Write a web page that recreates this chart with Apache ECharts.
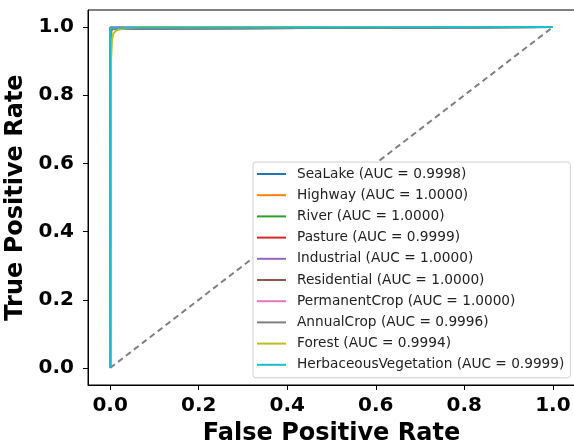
<!DOCTYPE html>
<html><head><meta charset="utf-8">
<script src="https://cdn.jsdelivr.net/npm/echarts@6/dist/echarts.min.js"></script>
<style>html,body{margin:0;padding:0;background:#fff}#c{width:574px;height:446px}</style>
</head><body><div id="c"></div>
<script>
const classNames = ['SeaLake','Highway','River','Pasture','Industrial','Residential','PermanentCrop','AnnualCrop','Forest','HerbaceousVegetation'];
const aucValues = ['0.9998','1.0000','1.0000','0.9999','1.0000','1.0000','1.0000','0.9996','0.9994','0.9999'];
const colors = ['#1f77b4','#ff7f0e','#2ca02c','#d62728','#9467bd','#8c564b','#e377c2','#7f7f7f','#bcbd22','#17becf'];
const tickValues = [0, 0.2, 0.4, 0.6, 0.8, 1.0];
// ROC curve points [FPR, TPR] per class
const rocSeaLake = [[0,0],[0,0.97],[0.001,0.99],[0.003,0.998],[0.006,1],[1,1]];
const rocHighway = [[0,0],[0,0.99],[0.001,1],[1,1]];
const rocRiver = [[0,0],[0,0.995],[0.001,1],[1,1]];
const rocPasture = [[0,0],[0,0.98],[0.002,0.995],[0.004,1],[1,1]];
const rocIndustrial = [[0,0],[0,0.995],[0.001,1],[1,1]];
const rocResidential = [[0,0],[0,0.998],[0.001,1],[1,1]];
const rocPermanentCrop = [[0,0],[0,0.99],[0.002,1],[1,1]];
const rocAnnualCrop = [[0,0],[0.001,0.95],[0.003,0.99],[0.008,0.996],[0.2,0.996],[0.2,1],[1,1]];
const rocForest = [[0,0],[0.002,0.9],[0.004,0.96],[0.007,0.98],[0.012,0.988],[0.02,0.993],[0.035,0.996],[0.05,0.998],[0.06,1],[1,1]];
const rocHerbaceous = [[0,0],[0,0.99],[0.002,0.998],[0.004,1],[1,1]];
const rocData = [rocSeaLake,rocHighway,rocRiver,rocPasture,rocIndustrial,rocResidential,rocPermanentCrop,rocAnnualCrop,rocForest,rocHerbaceous];
const diagonal = [[0,0],[1,1]];

const chart = echarts.init(document.getElementById('c'));
const font = 'DejaVu Sans';
const series = classNames.map((n,i)=>({
  name: n + ' (AUC = ' + aucValues[i] + ')',
  type: 'line', data: rocData[i], symbol: 'none', showSymbol: false,
  lineStyle: {color: colors[i], width: 2}, itemStyle: {color: colors[i]},
  animation: false, z: 3 + i
}));
series.push({name: 'diag', type: 'line', data: diagonal, symbol: 'none',
  lineStyle: {color: '#808080', width: 2, type: [6, 4]}, animation: false, z: 2});
chart.setOption({
  animation: false,
  grid: {left: 88, right: -1, top: 10, bottom: 61, outerBoundsMode: 'none', containLabel: false,
    show: true, borderColor: '#000', borderWidth: 1, backgroundColor: 'transparent'},
  xAxis: {type: 'value', min: -0.05, max: 1.05,
    name: 'False Positive Rate', nameLocation: 'middle', nameGap: 37,
    nameTextStyle: {fontFamily: font, fontWeight: 'bold', fontSize: 24, color: '#000'},
    axisLine: {show: true, onZero: false, lineStyle: {color: '#000'}},
    axisTick: {show: true, customValues: tickValues, length: 5, lineStyle: {color: '#000'}},
    axisLabel: {customValues: tickValues, formatter: v => v.toFixed(1), fontFamily: font, fontWeight: 'bold', fontSize: 20, color: '#000', margin: 11},
    splitLine: {show: false}},
  yAxis: {type: 'value', min: -0.05, max: 1.05,
    name: 'True Positive Rate', nameLocation: 'middle', nameGap: 54,
    nameTextStyle: {fontFamily: font, fontWeight: 'bold', fontSize: 24, color: '#000'},
    axisLine: {show: true, onZero: false, lineStyle: {color: '#000'}},
    axisTick: {show: true, customValues: tickValues, length: 5, lineStyle: {color: '#000'}},
    axisLabel: {customValues: tickValues, formatter: v => v.toFixed(1), fontFamily: font, fontWeight: 'bold', fontSize: 20, color: '#000', margin: 14},
    splitLine: {show: false}},
  legend: {
    data: series.slice(0,10).map(s=>({name: s.name, icon: 'path://M0,6L29,6L29,8L0,8Z'})),
    orient: 'vertical', left: 253, top: 162,
    itemWidth: 29, itemHeight: 14, itemGap: 7.2,
    padding: [5, 6, 6, 4],
    backgroundColor: '#fff', borderColor: '#d0d0d0', borderWidth: 1, borderRadius: 3,
    textStyle: {fontFamily: font, fontSize: 13.7, color: '#222', padding: [0,0,0,6]}
  },
  series: series
});
</script></body></html>
